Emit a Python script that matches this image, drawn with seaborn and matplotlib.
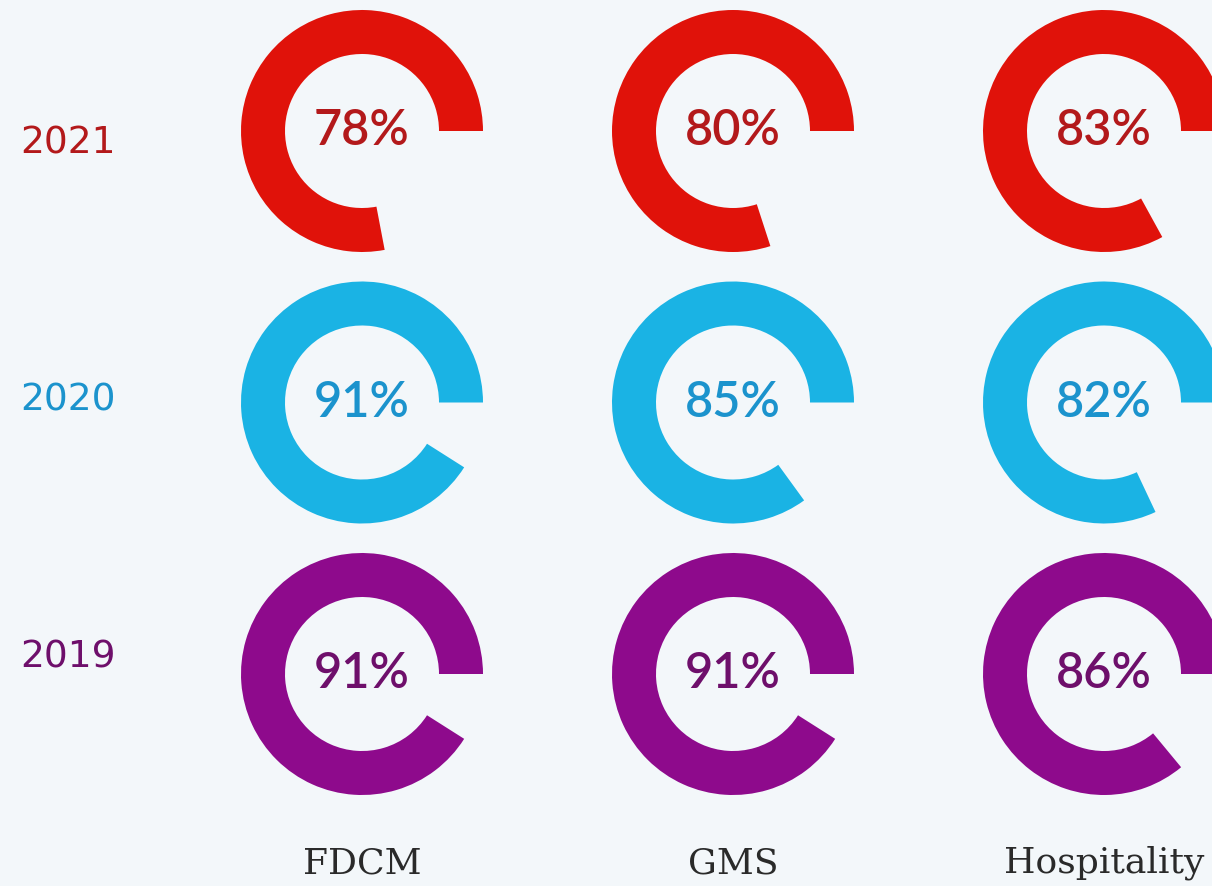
import matplotlib
matplotlib.use("Agg")
import matplotlib.pyplot as plt
import seaborn as sns

# Data
years = ["2021", "2020", "2019"]
groups = ["FDCM", "GMS", "Hospitality"]
pct_2021 = [78, 80, 83]
pct_2020 = [91, 85, 82]
pct_2019 = [91, 91, 86]
values = [pct_2021, pct_2020, pct_2019]

ring_colors = ["#e0120a", "#1ab3e4", "#8e0a8c"]
text_colors = ["#b3191b", "#1b93cd", "#6e0f6b"]

sns.set_theme(style="white")

W, H = 1212, 886
fig = plt.figure(figsize=(W / 100, H / 100), dpi=100)
fig.patch.set_facecolor("#f3f7fa")
ax = fig.add_axes([0, 0, 1, 1])
ax.set_facecolor("#f3f7fa")

R = 121
col_x = [362 + 371 * j for j in range(3)]
row_y = [H - (131 + 271.5 * i) for i in range(3)]
label_y = [H - 143, H - 400, H - 658]

for i, year in enumerate(years):
    for j, grp in enumerate(groups):
        p = values[i][j]
        ax.pie([p, 100 - p], startangle=0, counterclock=True,
               colors=[ring_colors[i], "none"], radius=R,
               center=(col_x[j], row_y[i]),
               wedgeprops=dict(width=44, edgecolor="none"))
        ax.text(col_x[j], row_y[i], f"{p}%", ha="center", va="center",
                fontsize=35, family="Lato", fontweight="semibold",
                color=text_colors[i])
    ax.text(20, label_y[i], year, ha="left", va="center", fontsize=27,
            family="DejaVu Sans", color=text_colors[i])

for j, grp in enumerate(groups):
    ax.text(col_x[j], H - 863, grp, ha="center", va="center", fontsize=26,
            family="DejaVu Serif", color="#2a2a2a")

ax.set_xlim(0, W)
ax.set_ylim(0, H)
ax.set_aspect("equal")
ax.axis("off")

fig.savefig("out.png", dpi=100, facecolor=fig.get_facecolor())
